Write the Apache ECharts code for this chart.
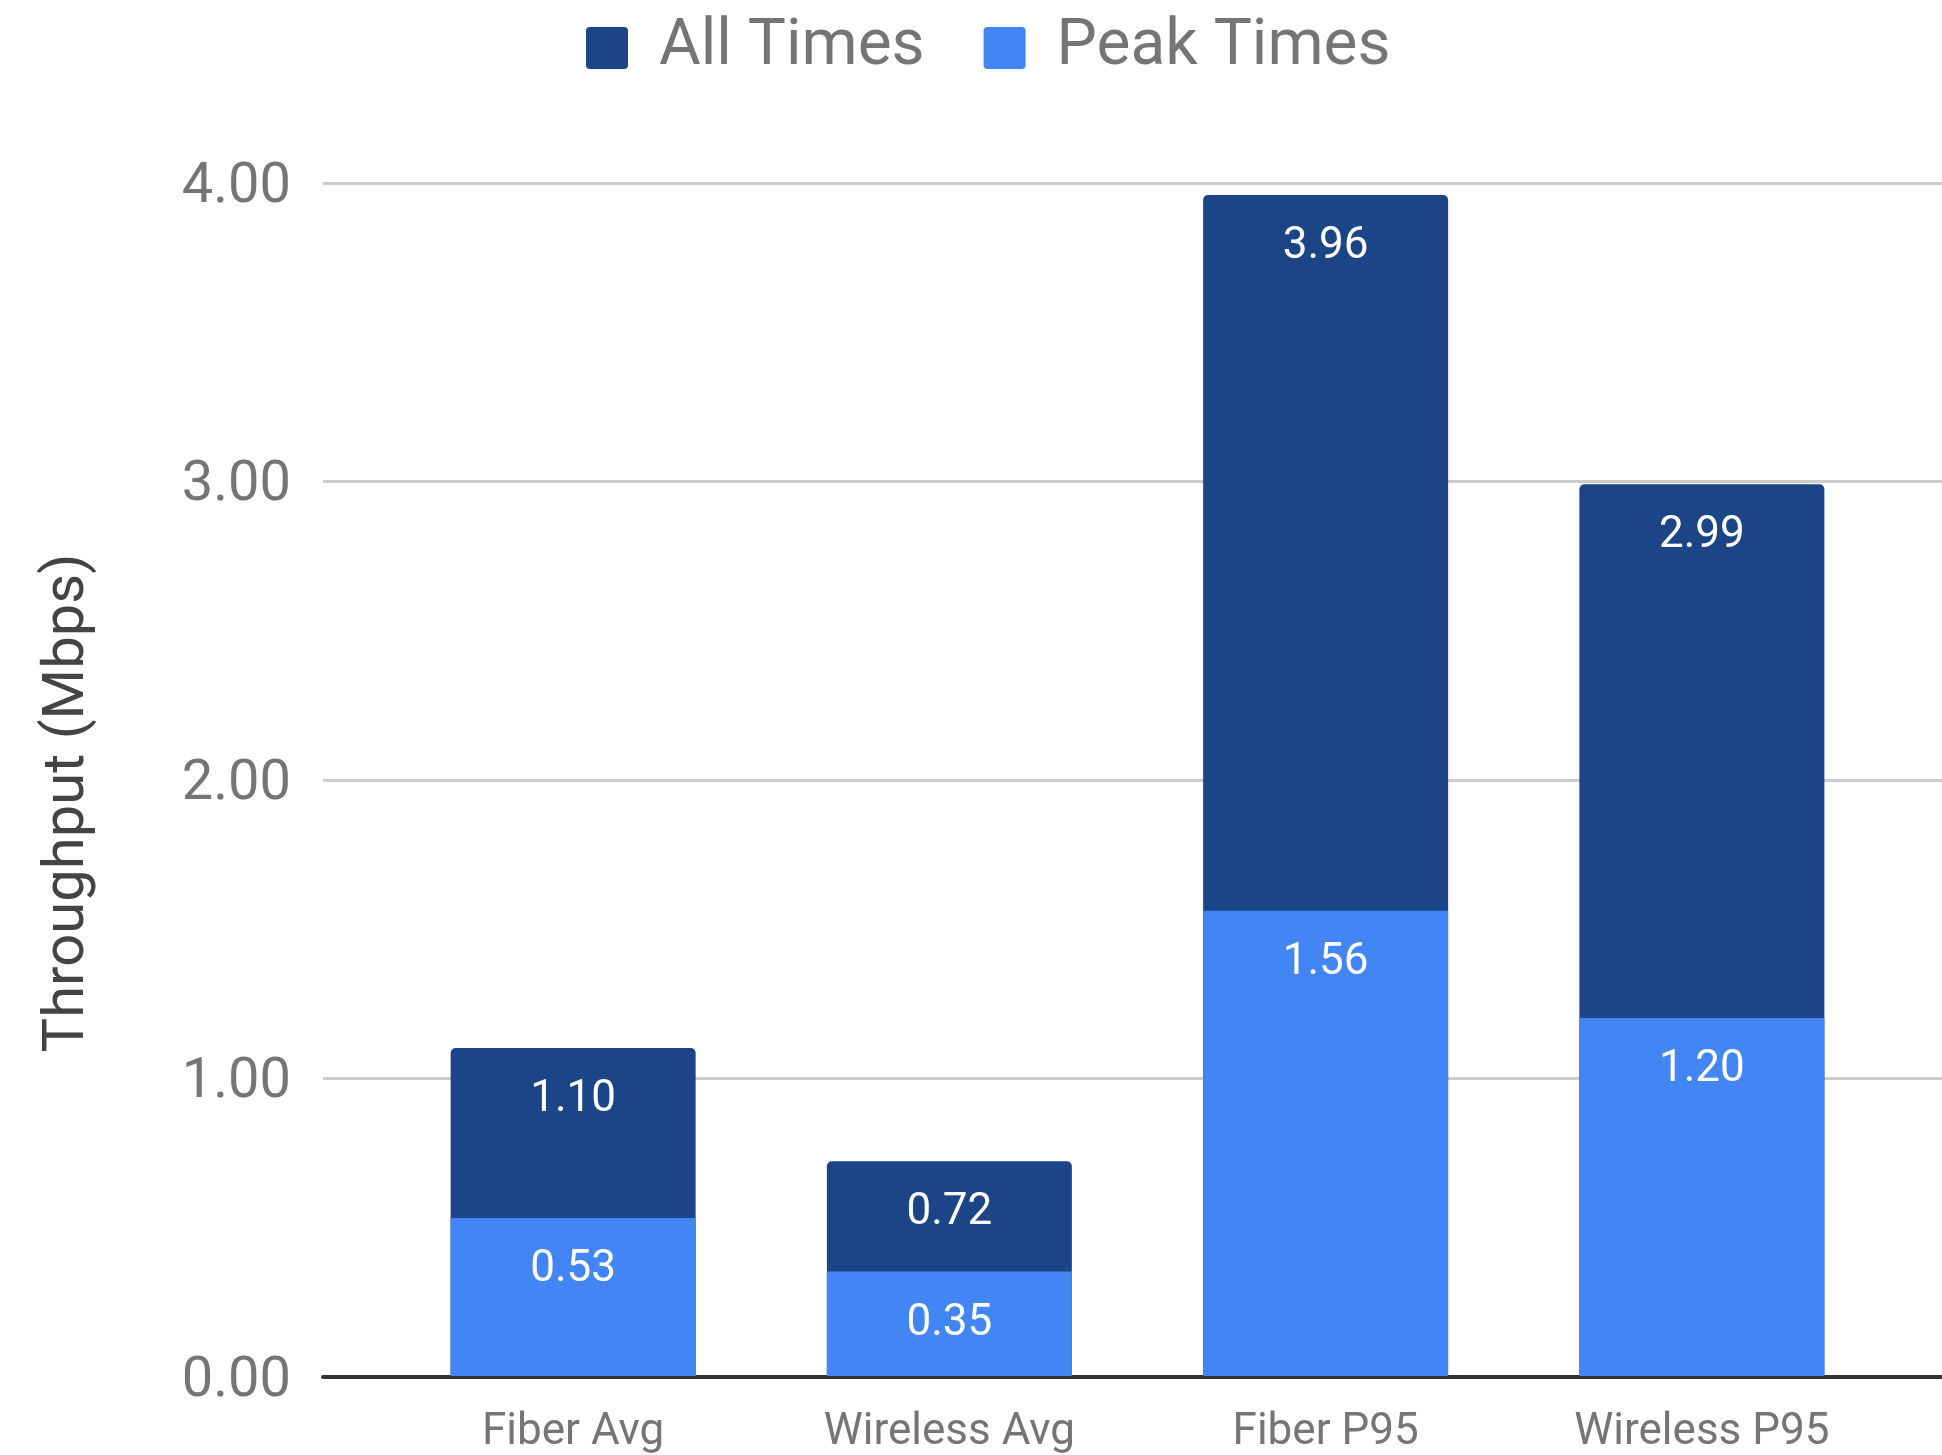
<!DOCTYPE html>
<html>
<head>
<meta charset="utf-8">
<script src="https://cdn.jsdelivr.net/npm/echarts@6/dist/echarts.min.js"></script>
<style>
  html, body { margin: 0; padding: 0; background: #fff; }
  #chart { width: 1942px; height: 1455px; }
</style>
</head>
<body>
<div id="chart"></div>
<script>
// Throughput per connection type, all times vs peak times
const categories = ['Fiber Avg', 'Wireless Avg', 'Fiber P95', 'Wireless P95'];
const allTimes = [1.10, 0.72, 3.96, 2.99];
const peakTimes = [0.53, 0.35, 1.56, 1.20];
const yTicks = [0, 1, 2, 3, 4];

const FONT = 'Roboto';
const GREY = '#757575';

// square legend swatch with slightly rounded corners
const SWATCH = 'path://M4,0H38Q42,0 42,4V38Q42,42 38,42H4Q0,42 0,38V4Q0,0 4,0Z';

const chart = echarts.init(document.getElementById('chart'), null, { renderer: 'canvas' });

const valueLabel = {
  show: true,
  position: 'insideTop',
  distance: 30,
  color: '#ffffff',
  fontFamily: FONT,
  fontSize: 44,
  formatter: p => p.value.toFixed(2)
};

chart.setOption({
  animation: false,
  backgroundColor: '#ffffff',
  legend: {
    left: 581,
    top: 11,
    itemWidth: 42,
    itemHeight: 42,
    itemGap: 59,
    icon: SWATCH,
    textStyle: { fontFamily: FONT, fontSize: 64, color: GREY, padding: [0, 0, 0, 26] },
    data: ['All Times', 'Peak Times']
  },
  grid: [
    // full-width grid carrying the value scale, gridlines and baseline
    { left: 323, right: 0, top: 183, bottom: 78 },
    // inner grid holding the bars and category labels
    { left: 385, right: 52, top: 183, bottom: 78 }
  ],
  xAxis: [
    {
      gridIndex: 0,
      type: 'category',
      data: categories,
      axisLine: { show: true, lineStyle: { color: '#333333', width: 4 } },
      axisTick: { show: false },
      axisLabel: { show: false }
    },
    {
      gridIndex: 1,
      type: 'category',
      data: categories,
      axisLine: { show: false },
      axisTick: { show: false },
      axisLabel: { fontFamily: FONT, fontSize: 44, color: GREY, margin: 35 }
    }
  ],
  yAxis: [
    {
      gridIndex: 0,
      type: 'value',
      min: yTicks[0],
      max: yTicks[yTicks.length - 1],
      interval: 1,
      name: 'Throughput (Mbps)',
      nameLocation: 'middle',
      nameRotate: 90,
      nameGap: 226,
      nameTextStyle: { fontFamily: FONT, fontSize: 58, color: '#444444', padding: [0, 46, 0, 0] },
      axisLine: { show: false },
      axisTick: { show: false },
      axisLabel: {
        margin: 32,
        // a thin spacer line above the number nudges it a little below the tick
        formatter: v => '{s| }\n{v|' + v.toFixed(2) + '}',
        rich: {
          s: { fontSize: 1, lineHeight: 9 },
          v: { fontFamily: FONT, fontSize: 56, color: GREY, lineHeight: 56 }
        }
      },
      splitLine: { lineStyle: { color: '#cccccc', width: 3 } }
    },
    {
      gridIndex: 1,
      type: 'value',
      min: yTicks[0],
      max: yTicks[yTicks.length - 1],
      interval: 1,
      show: false,
      splitLine: { show: false }
    }
  ],
  series: [
    {
      name: 'All Times',
      type: 'bar',
      xAxisIndex: 1,
      yAxisIndex: 1,
      data: allTimes,
      barWidth: 245,
      barGap: '-100%',
      itemStyle: { color: '#1c4587', borderRadius: [5, 5, 0, 0] },
      label: valueLabel
    },
    {
      name: 'Peak Times',
      type: 'bar',
      xAxisIndex: 1,
      yAxisIndex: 1,
      data: peakTimes,
      barWidth: 245,
      barGap: '-100%',
      itemStyle: { color: '#4285f4' },
      label: valueLabel
    }
  ]
});
</script>
</body>
</html>
